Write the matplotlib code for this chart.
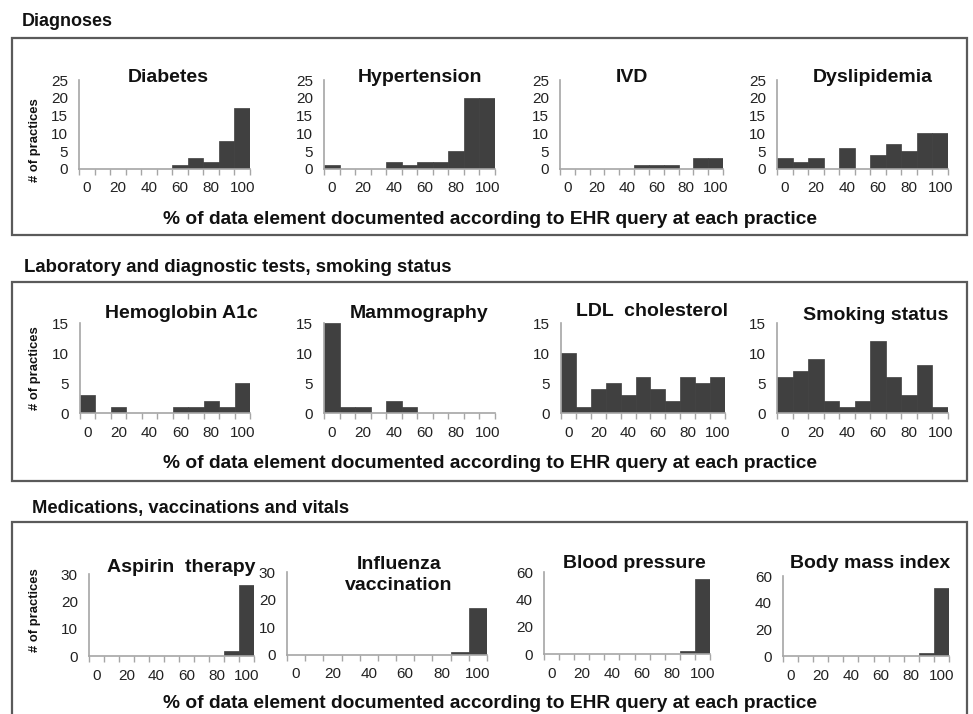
import numpy as np
import matplotlib
matplotlib.use("Agg")
import matplotlib.pyplot as plt
from matplotlib.patches import Rectangle

plt.rcParams["font.family"] = ["Liberation Sans", "DejaVu Sans"]

# ---------------------------------------------------------
# DATA  (number of practices per 10%-bin, 0..100)
# ---------------------------------------------------------
bins = [0, 10, 20, 30, 40, 50, 60, 70, 80, 90, 100]
tick_labels = ["0", "20", "40", "60", "80", "100"]

diabetes      = [0, 0, 0, 0, 0, 0, 1, 3, 2, 8, 17]
hypertension  = [1, 0, 0, 0, 2, 1, 2, 2, 5, 20, 20]
ivd           = [0, 0, 0, 0, 0, 1, 1, 1, 0, 3, 3]
dyslipidemia  = [3, 2, 3, 0, 6, 0, 4, 7, 5, 10, 10]

hba1c         = [3, 0, 1, 0, 0, 0, 1, 1, 2, 1, 5]
mammography   = [15, 1, 1, 0, 2, 1, 0, 0, 0, 0, 0]
ldl           = [10, 1, 4, 5, 3, 6, 4, 2, 6, 5, 6]
smoking       = [6, 7, 9, 2, 1, 2, 12, 6, 3, 8, 1]

aspirin       = [0, 0, 0, 0, 0, 0, 0, 0, 0, 2, 26]
influenza     = [0, 0, 0, 0, 0, 0, 0, 0, 0, 1, 17]
blood_press   = [0, 0, 0, 0, 0, 0, 0, 0, 0, 2, 55]
bmi           = [0, 0, 0, 0, 0, 0, 0, 0, 0, 2, 51]

section_titles = ["Diagnoses",
                  "Laboratory and diagnostic tests, smoking status",
                  "Medications, vaccinations and vitals"]
xlabel = "% of data element documented according to EHR query at each practice"

W, H = 973, 714
BAR = "#404040"
AXC = "#a6a6a6"
TXT = "#111111"

fig = plt.figure(figsize=(W / 100, H / 100), dpi=100)


def fx(px):
    return px / W


def fy(py):
    return 1 - py / H


def panel(x0, x1, y0, ytop, counts, ymax, ystep, title, tx, ty):
    ax = fig.add_axes([fx(x0), fy(y0), fx(x1 - x0), (y0 - ytop) / H])
    ax.bar(range(len(bins)), counts, width=1.0, color=BAR,
           edgecolor=BAR, linewidth=0.5)
    ax.set_xlim(-0.5, len(bins) - 0.5)
    ax.set_ylim(0, ymax)
    ax.set_yticks(np.arange(0, ymax + 1, ystep))
    ax.set_xticks(range(0, len(bins), 2))
    ax.set_xticklabels(tick_labels)
    ax.set_xticks(np.arange(-0.5, len(bins)), minor=True)
    ax.tick_params(axis="x", which="major", length=0, pad=9,
                   labelsize=11, colors="#222222")
    ax.tick_params(axis="x", which="minor", length=4, width=1,
                   color=AXC, direction="out")
    ax.tick_params(axis="y", length=0, pad=8, labelsize=11,
                   colors="#222222")
    for s in ["top", "right"]:
        ax.spines[s].set_visible(False)
    for s in ["left", "bottom"]:
        ax.spines[s].set_color(AXC)
        ax.spines[s].set_linewidth(1.2)
    # title lines placed one by one (tight line spacing as in source)
    lines = title.split("\n")
    for i, line in enumerate(lines):
        fig.text(fx(tx), fy(ty + 21 * (i - (len(lines) - 1) / 2)), line,
                 ha="center", va="center", fontsize=14,
                 fontweight="bold", color=TXT)
    return ax


# ---------------------------------------------------------
# BOXES + SECTION TITLES
# ---------------------------------------------------------
boxes = [(12, 38, 235), (12, 282, 481), (12, 522, 730)]
for (bx, top, bot) in boxes:
    fig.add_artist(Rectangle((fx(bx), fy(bot)), fx(967 - bx), (bot - top) / H,
                             transform=fig.transFigure, fill=False,
                             edgecolor="#5a5a5a", linewidth=1.6))

fig.text(fx(22), fy(22), section_titles[0], ha="left", va="center",
         fontsize=13, fontweight="bold", color=TXT)
fig.text(fx(24), fy(267), section_titles[1], ha="left", va="center",
         fontsize=13.4, fontweight="bold", color=TXT)
fig.text(fx(32), fy(508), section_titles[2], ha="left", va="center",
         fontsize=13.2, fontweight="bold", color=TXT)

# ---------------------------------------------------------
# ROW 1 - Diagnoses
# ---------------------------------------------------------
panel(79, 250, 169, 80, diabetes, 25, 5, "Diabetes", 168, 77)
panel(324, 495, 169, 80, hypertension, 25, 5, "Hypertension", 420, 77)
panel(560, 723, 169, 80, ivd, 25, 5, "IVD", 632, 77)
panel(777, 948, 169, 80, dyslipidemia, 25, 5, "Dyslipidemia", 873, 78)

# ---------------------------------------------------------
# ROW 2 - Lab tests
# ---------------------------------------------------------
panel(80, 250, 413, 323, hba1c, 15, 5, "Hemoglobin A1c", 181, 314)
panel(324, 495, 413, 323, mammography, 15, 5, "Mammography", 419, 314)
panel(561, 725, 413, 323, ldl, 15, 5, "LDL  cholesterol", 652, 312)
panel(777, 948, 413, 323, smoking, 15, 5, "Smoking status", 876, 316)

# ---------------------------------------------------------
# ROW 3 - Medications, vitals
# ---------------------------------------------------------
panel(89, 254, 656, 574, aspirin, 30, 10, "Aspirin  therapy", 181, 567)
panel(287, 487, 655, 572, influenza, 30, 10, "Influenza\nvaccination", 399, 575)
panel(544, 710, 654, 572, blood_press, 60, 20, "Blood pressure", 634, 563)
panel(783, 949, 656, 576, bmi, 60, 20, "Body mass index", 870, 563)

# ---------------------------------------------------------
# SHARED LABELS
# ---------------------------------------------------------
for ly in [220, 463, 703]:
    fig.text(fx(490), fy(ly), xlabel, ha="center", va="center",
             fontsize=13.8, fontweight="bold", color=TXT)

for ly in [140, 368, 610]:
    fig.text(fx(35), fy(ly), "# of practices", ha="center", va="center",
             rotation=90, fontsize=9.4, fontweight="bold", color=TXT)

fig.savefig("out.png", dpi=100)
